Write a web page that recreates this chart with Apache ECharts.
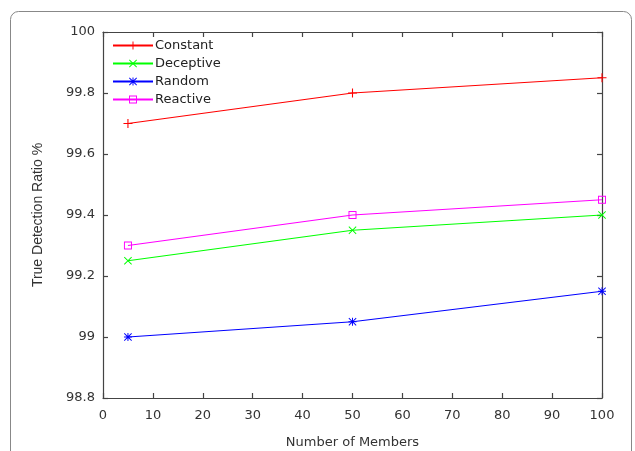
<!DOCTYPE html>
<html><head><meta charset="utf-8">
<script src="https://cdn.jsdelivr.net/npm/echarts@6/dist/echarts.min.js"></script>
<style>html,body{margin:0;padding:0;background:#fff}#c{width:635px;height:451px}</style>
</head><body><div id="c"></div>
<script>
const members = [5, 50, 100];
const constant = [99.7, 99.8, 99.85];
const deceptive = [99.25, 99.35, 99.4];
const random = [99.0, 99.05, 99.15];
const reactive = [99.3, 99.4, 99.45];
const seriesNames = ['Constant', 'Deceptive', 'Random', 'Reactive'];

const FONT = 'DejaVu Sans';
const plusPath = 'path://M0,4.4H10V5.6H0Z M4.4,0H5.6V10H4.4Z';
const xPath = 'path://M0.8,0L10,9.2L9.2,10L0,0.8Z M9.2,0L10,0.8L0.8,10L0,9.2Z';
const starPath = 'path://M0,4.4H10V5.6H0Z M4.4,0H5.6V10H4.4Z M0.8,0L10,9.2L9.2,10L0,0.8Z M9.2,0L10,0.8L0.8,10L0,9.2Z';
const sqPath = 'path://M0,0H10V10H0Z M1.2,1.2V8.8H8.8V1.2Z';

function pts(arr){ return members.map((m,i)=>[m, arr[i]]); }
function mk(name, arr, color, sym, size){
  return {name, type:'line', data: pts(arr), symbol: sym, symbolSize: size,
    showAllSymbol:true, lineStyle:{color, width:1.2}, itemStyle:{color, borderWidth:0},
    xAxisIndex:0, yAxisIndex:0,
    emphasis:{disabled:true}, animation:false};
}
const AX = '#444';
const chart = echarts.init(document.getElementById('c'));
chart.setOption({
  animation:false,
  backgroundColor:'#fff',
  graphic:[{type:'rect', shape:{x:10.5, y:11.5, width:621, height:460, r:8},
    style:{fill:'none', stroke:'#888', lineWidth:1}, z:-1}],
  grid:{left:103, right:33, top:32, bottom:53, outerBoundsMode:'none', containLabel:false},
  legend:{
    data: seriesNames, orient:'vertical', left:107, top:34, itemGap:5,
    itemWidth:40, itemHeight:10,
    textStyle:{fontFamily:FONT, fontSize:13, color:'#222', padding:[0,0,0,-3]},
    selectedMode:false
  },
  xAxis:[
    {type:'value', min:0, max:100, interval:10, position:'bottom',
      name:'Number of Members', nameLocation:'middle', nameGap:38,
      nameTextStyle:{fontFamily:FONT, fontSize:13, color:'#333'},
      axisLine:{show:true, onZero:false, lineStyle:{color:AX, width:1.2}},
      axisTick:{show:true, inside:true, length:5, lineStyle:{color:AX, width:1.2}},
      splitLine:{show:false},
      axisLabel:{fontFamily:FONT, fontSize:13, color:'#333', margin:11}},
    {type:'value', min:0, max:100, interval:10, position:'top',
      axisLine:{show:true, onZero:false, lineStyle:{color:AX, width:1.2}},
      axisTick:{show:true, inside:true, length:5, lineStyle:{color:AX, width:1.2}},
      splitLine:{show:false},
      axisLabel:{show:true, color:'rgba(0,0,0,0)'}}
  ],
  yAxis:[
    {type:'value', min:98.8, max:100, interval:0.2, position:'left',
      name:'True Detection Ratio %', nameLocation:'middle', nameGap:58, nameRotate:90,
      nameTextStyle:{fontFamily:'Liberation Sans', fontSize:14, color:'#333'},
      axisLine:{show:true, onZero:false, lineStyle:{color:AX, width:1.2}},
      axisTick:{show:true, inside:true, length:5, lineStyle:{color:AX, width:1.2}},
      splitLine:{show:false},
      axisLabel:{fontFamily:FONT, fontSize:13, color:'#333', margin:8}},
    {type:'value', min:98.8, max:100, interval:0.2, position:'right',
      axisLine:{show:true, onZero:false, lineStyle:{color:AX, width:1.2}},
      axisTick:{show:true, inside:true, length:5, lineStyle:{color:AX, width:1.2}},
      splitLine:{show:false},
      axisLabel:{show:true, color:'rgba(0,0,0,0)'}}
  ],
  series:[
    mk('Constant', constant, '#ff0000', plusPath, 9),
    mk('Deceptive', deceptive, '#00ff00', xPath, 8),
    mk('Random', random, '#0000ff', starPath, 8),
    mk('Reactive', reactive, '#ff00ff', sqPath, 8),
    {type:'line', name:'_dummy', data:[[50, 99.4]], xAxisIndex:1, yAxisIndex:1,
      symbol:'none', lineStyle:{opacity:0}, silent:true}
  ]
});
</script></body></html>
